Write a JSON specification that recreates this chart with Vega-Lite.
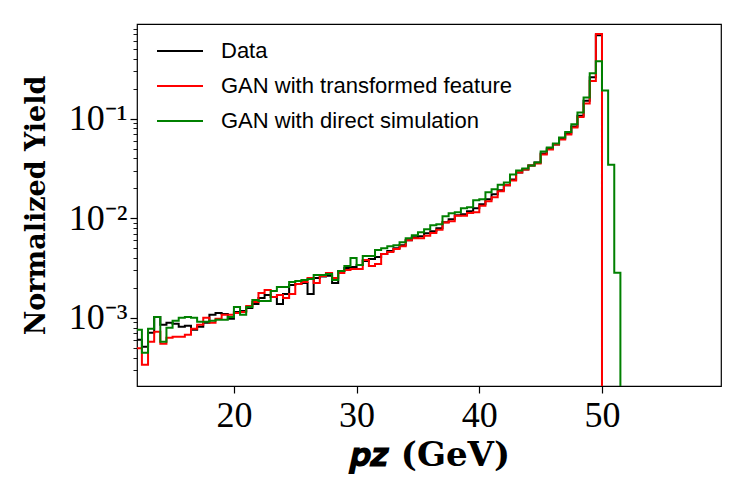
{
  "$schema": "https://vega.github.io/schema/vega-lite/v6.json",
  "background": "white",
  "autosize": {"type": "none"},
  "padding": {"left": 137, "top": 24, "right": 26, "bottom": 112},
  "width": 584,
  "height": 362,
  "config": {
    "view": {"stroke": "black", "strokeWidth": 1.2},
    "axis": {"grid": false, "domain": false}
  },
  "data": {
    "values": [
      {"s": "Data", "pz": 12.0, "y": 6.03e-4},
      {"s": "Data", "pz": 12.5, "y": 5.13e-4},
      {"s": "Data", "pz": 13.0, "y": 7.08e-4},
      {"s": "Data", "pz": 13.5, "y": 1.023e-3},
      {"s": "Data", "pz": 14.0, "y": 8.51e-4},
      {"s": "Data", "pz": 14.5, "y": 8.91e-4},
      {"s": "Data", "pz": 15.0, "y": 8.71e-4},
      {"s": "Data", "pz": 15.5, "y": 8.13e-4},
      {"s": "Data", "pz": 16.0, "y": 8.32e-4},
      {"s": "Data", "pz": 16.5, "y": 7.59e-4},
      {"s": "Data", "pz": 17.0, "y": 8.13e-4},
      {"s": "Data", "pz": 17.5, "y": 8.91e-4},
      {"s": "Data", "pz": 18.0, "y": 1.072e-3},
      {"s": "Data", "pz": 18.5, "y": 1.122e-3},
      {"s": "Data", "pz": 19.0, "y": 1.096e-3},
      {"s": "Data", "pz": 19.5, "y": 9.77e-4},
      {"s": "Data", "pz": 20.0, "y": 1.148e-3},
      {"s": "Data", "pz": 20.5, "y": 1.175e-3},
      {"s": "Data", "pz": 21.0, "y": 1.259e-3},
      {"s": "Data", "pz": 21.5, "y": 1.38e-3},
      {"s": "Data", "pz": 22.0, "y": 1.585e-3},
      {"s": "Data", "pz": 22.5, "y": 1.698e-3},
      {"s": "Data", "pz": 23.0, "y": 1.622e-3},
      {"s": "Data", "pz": 23.5, "y": 1.38e-3},
      {"s": "Data", "pz": 24.0, "y": 1.738e-3},
      {"s": "Data", "pz": 24.5, "y": 2.138e-3},
      {"s": "Data", "pz": 25.0, "y": 2.188e-3},
      {"s": "Data", "pz": 25.5, "y": 2.239e-3},
      {"s": "Data", "pz": 26.0, "y": 1.738e-3},
      {"s": "Data", "pz": 26.5, "y": 2.512e-3},
      {"s": "Data", "pz": 27.0, "y": 2.6e-3},
      {"s": "Data", "pz": 27.5, "y": 2.65e-3},
      {"s": "Data", "pz": 28.0, "y": 2.239e-3},
      {"s": "Data", "pz": 28.5, "y": 2.951e-3},
      {"s": "Data", "pz": 29.0, "y": 3.162e-3},
      {"s": "Data", "pz": 29.5, "y": 3.236e-3},
      {"s": "Data", "pz": 30.0, "y": 3.388e-3},
      {"s": "Data", "pz": 30.5, "y": 3.715e-3},
      {"s": "Data", "pz": 31.0, "y": 3.89e-3},
      {"s": "Data", "pz": 31.5, "y": 4.074e-3},
      {"s": "Data", "pz": 32.0, "y": 4.365e-3},
      {"s": "Data", "pz": 32.5, "y": 4.677e-3},
      {"s": "Data", "pz": 33.0, "y": 5.012e-3},
      {"s": "Data", "pz": 33.5, "y": 5.37e-3},
      {"s": "Data", "pz": 34.0, "y": 6.026e-3},
      {"s": "Data", "pz": 34.5, "y": 6.457e-3},
      {"s": "Data", "pz": 35.0, "y": 6.607e-3},
      {"s": "Data", "pz": 35.5, "y": 7.079e-3},
      {"s": "Data", "pz": 36.0, "y": 7.413e-3},
      {"s": "Data", "pz": 36.5, "y": 7.943e-3},
      {"s": "Data", "pz": 37.0, "y": 9.12e-3},
      {"s": "Data", "pz": 37.5, "y": 9.77e-3},
      {"s": "Data", "pz": 38.0, "y": 1.072e-2},
      {"s": "Data", "pz": 38.5, "y": 1.096e-2},
      {"s": "Data", "pz": 39.0, "y": 1.175e-2},
      {"s": "Data", "pz": 39.5, "y": 1.259e-2},
      {"s": "Data", "pz": 40.0, "y": 1.38e-2},
      {"s": "Data", "pz": 40.5, "y": 1.549e-2},
      {"s": "Data", "pz": 41.0, "y": 1.738e-2},
      {"s": "Data", "pz": 41.5, "y": 1.905e-2},
      {"s": "Data", "pz": 42.0, "y": 2.138e-2},
      {"s": "Data", "pz": 42.5, "y": 2.455e-2},
      {"s": "Data", "pz": 43.0, "y": 2.884e-2},
      {"s": "Data", "pz": 43.5, "y": 3.09e-2},
      {"s": "Data", "pz": 44.0, "y": 3.388e-2},
      {"s": "Data", "pz": 44.5, "y": 3.631e-2},
      {"s": "Data", "pz": 45.0, "y": 4.467e-2},
      {"s": "Data", "pz": 45.5, "y": 5.012e-2},
      {"s": "Data", "pz": 46.0, "y": 5.495e-2},
      {"s": "Data", "pz": 46.5, "y": 6.31e-2},
      {"s": "Data", "pz": 47.0, "y": 7.079e-2},
      {"s": "Data", "pz": 47.5, "y": 8.318e-2},
      {"s": "Data", "pz": 48.0, "y": 0.107},
      {"s": "Data", "pz": 48.5, "y": 0.151},
      {"s": "Data", "pz": 49.0, "y": 0.26},
      {"s": "Data", "pz": 49.5, "y": 0.687},
      {"s": "Data", "pz": 50.0, "y": 1e-6},
      {"s": "GAN with transformed feature", "pz": 12.0, "y": 4.95e-4},
      {"s": "GAN with transformed feature", "pz": 12.5, "y": 3.39e-4},
      {"s": "GAN with transformed feature", "pz": 13.0, "y": 5.75e-4},
      {"s": "GAN with transformed feature", "pz": 13.5, "y": 7.24e-4},
      {"s": "GAN with transformed feature", "pz": 14.0, "y": 5.5e-4},
      {"s": "GAN with transformed feature", "pz": 14.5, "y": 6.31e-4},
      {"s": "GAN with transformed feature", "pz": 15.0, "y": 6.46e-4},
      {"s": "GAN with transformed feature", "pz": 15.5, "y": 6.46e-4},
      {"s": "GAN with transformed feature", "pz": 16.0, "y": 6.76e-4},
      {"s": "GAN with transformed feature", "pz": 16.5, "y": 7.76e-4},
      {"s": "GAN with transformed feature", "pz": 17.0, "y": 8.51e-4},
      {"s": "GAN with transformed feature", "pz": 17.5, "y": 1.0e-3},
      {"s": "GAN with transformed feature", "pz": 18.0, "y": 8.91e-4},
      {"s": "GAN with transformed feature", "pz": 18.5, "y": 9.77e-4},
      {"s": "GAN with transformed feature", "pz": 19.0, "y": 1.072e-3},
      {"s": "GAN with transformed feature", "pz": 19.5, "y": 1.072e-3},
      {"s": "GAN with transformed feature", "pz": 20.0, "y": 1.122e-3},
      {"s": "GAN with transformed feature", "pz": 20.5, "y": 1.148e-3},
      {"s": "GAN with transformed feature", "pz": 21.0, "y": 1.318e-3},
      {"s": "GAN with transformed feature", "pz": 21.5, "y": 1.445e-3},
      {"s": "GAN with transformed feature", "pz": 22.0, "y": 1.778e-3},
      {"s": "GAN with transformed feature", "pz": 22.5, "y": 1.905e-3},
      {"s": "GAN with transformed feature", "pz": 23.0, "y": 1.622e-3},
      {"s": "GAN with transformed feature", "pz": 23.5, "y": 1.698e-3},
      {"s": "GAN with transformed feature", "pz": 24.0, "y": 1.585e-3},
      {"s": "GAN with transformed feature", "pz": 24.5, "y": 1.738e-3},
      {"s": "GAN with transformed feature", "pz": 25.0, "y": 2.188e-3},
      {"s": "GAN with transformed feature", "pz": 25.5, "y": 2.291e-3},
      {"s": "GAN with transformed feature", "pz": 26.0, "y": 2.512e-3},
      {"s": "GAN with transformed feature", "pz": 26.5, "y": 2.239e-3},
      {"s": "GAN with transformed feature", "pz": 27.0, "y": 2.63e-3},
      {"s": "GAN with transformed feature", "pz": 27.5, "y": 2.818e-3},
      {"s": "GAN with transformed feature", "pz": 28.0, "y": 2.512e-3},
      {"s": "GAN with transformed feature", "pz": 28.5, "y": 2.818e-3},
      {"s": "GAN with transformed feature", "pz": 29.0, "y": 3.02e-3},
      {"s": "GAN with transformed feature", "pz": 29.5, "y": 3.09e-3},
      {"s": "GAN with transformed feature", "pz": 30.0, "y": 3.09e-3},
      {"s": "GAN with transformed feature", "pz": 30.5, "y": 3.802e-3},
      {"s": "GAN with transformed feature", "pz": 31.0, "y": 3.311e-3},
      {"s": "GAN with transformed feature", "pz": 31.5, "y": 3.467e-3},
      {"s": "GAN with transformed feature", "pz": 32.0, "y": 4.365e-3},
      {"s": "GAN with transformed feature", "pz": 32.5, "y": 4.571e-3},
      {"s": "GAN with transformed feature", "pz": 33.0, "y": 4.898e-3},
      {"s": "GAN with transformed feature", "pz": 33.5, "y": 5.248e-3},
      {"s": "GAN with transformed feature", "pz": 34.0, "y": 6.026e-3},
      {"s": "GAN with transformed feature", "pz": 34.5, "y": 6.31e-3},
      {"s": "GAN with transformed feature", "pz": 35.0, "y": 6.31e-3},
      {"s": "GAN with transformed feature", "pz": 35.5, "y": 6.67e-3},
      {"s": "GAN with transformed feature", "pz": 36.0, "y": 7.1e-3},
      {"s": "GAN with transformed feature", "pz": 36.5, "y": 7.66e-3},
      {"s": "GAN with transformed feature", "pz": 37.0, "y": 9.08e-3},
      {"s": "GAN with transformed feature", "pz": 37.5, "y": 9.33e-3},
      {"s": "GAN with transformed feature", "pz": 38.0, "y": 1.059e-2},
      {"s": "GAN with transformed feature", "pz": 38.5, "y": 1.059e-2},
      {"s": "GAN with transformed feature", "pz": 39.0, "y": 1.127e-2},
      {"s": "GAN with transformed feature", "pz": 39.5, "y": 1.148e-2},
      {"s": "GAN with transformed feature", "pz": 40.0, "y": 1.337e-2},
      {"s": "GAN with transformed feature", "pz": 40.5, "y": 1.479e-2},
      {"s": "GAN with transformed feature", "pz": 41.0, "y": 1.622e-2},
      {"s": "GAN with transformed feature", "pz": 41.5, "y": 1.862e-2},
      {"s": "GAN with transformed feature", "pz": 42.0, "y": 2.138e-2},
      {"s": "GAN with transformed feature", "pz": 42.5, "y": 2.399e-2},
      {"s": "GAN with transformed feature", "pz": 43.0, "y": 2.884e-2},
      {"s": "GAN with transformed feature", "pz": 43.5, "y": 3.09e-2},
      {"s": "GAN with transformed feature", "pz": 44.0, "y": 3.388e-2},
      {"s": "GAN with transformed feature", "pz": 44.5, "y": 3.548e-2},
      {"s": "GAN with transformed feature", "pz": 45.0, "y": 4.365e-2},
      {"s": "GAN with transformed feature", "pz": 45.5, "y": 4.898e-2},
      {"s": "GAN with transformed feature", "pz": 46.0, "y": 5.495e-2},
      {"s": "GAN with transformed feature", "pz": 46.5, "y": 6.166e-2},
      {"s": "GAN with transformed feature", "pz": 47.0, "y": 6.918e-2},
      {"s": "GAN with transformed feature", "pz": 47.5, "y": 8.128e-2},
      {"s": "GAN with transformed feature", "pz": 48.0, "y": 0.104},
      {"s": "GAN with transformed feature", "pz": 48.5, "y": 0.142},
      {"s": "GAN with transformed feature", "pz": 49.0, "y": 0.239},
      {"s": "GAN with transformed feature", "pz": 49.5, "y": 0.708},
      {"s": "GAN with transformed feature", "pz": 50.0, "y": 1e-6},
      {"s": "GAN with direct simulation", "pz": 12.0, "y": 7.59e-4},
      {"s": "GAN with direct simulation", "pz": 12.5, "y": 4.47e-4},
      {"s": "GAN with direct simulation", "pz": 13.0, "y": 7.76e-4},
      {"s": "GAN with direct simulation", "pz": 13.5, "y": 1.023e-3},
      {"s": "GAN with direct simulation", "pz": 14.0, "y": 5.75e-4},
      {"s": "GAN with direct simulation", "pz": 14.5, "y": 7.94e-4},
      {"s": "GAN with direct simulation", "pz": 15.0, "y": 9.33e-4},
      {"s": "GAN with direct simulation", "pz": 15.5, "y": 1.0e-3},
      {"s": "GAN with direct simulation", "pz": 16.0, "y": 1.023e-3},
      {"s": "GAN with direct simulation", "pz": 16.5, "y": 1.0e-3},
      {"s": "GAN with direct simulation", "pz": 17.0, "y": 9.12e-4},
      {"s": "GAN with direct simulation", "pz": 17.5, "y": 9.12e-4},
      {"s": "GAN with direct simulation", "pz": 18.0, "y": 9.33e-4},
      {"s": "GAN with direct simulation", "pz": 18.5, "y": 9.55e-4},
      {"s": "GAN with direct simulation", "pz": 19.0, "y": 9.55e-4},
      {"s": "GAN with direct simulation", "pz": 19.5, "y": 1.023e-3},
      {"s": "GAN with direct simulation", "pz": 20.0, "y": 1.288e-3},
      {"s": "GAN with direct simulation", "pz": 20.5, "y": 1.072e-3},
      {"s": "GAN with direct simulation", "pz": 21.0, "y": 1.288e-3},
      {"s": "GAN with direct simulation", "pz": 21.5, "y": 1.514e-3},
      {"s": "GAN with direct simulation", "pz": 22.0, "y": 1.479e-3},
      {"s": "GAN with direct simulation", "pz": 22.5, "y": 1.479e-3},
      {"s": "GAN with direct simulation", "pz": 23.0, "y": 1.862e-3},
      {"s": "GAN with direct simulation", "pz": 23.5, "y": 2.042e-3},
      {"s": "GAN with direct simulation", "pz": 24.0, "y": 2.042e-3},
      {"s": "GAN with direct simulation", "pz": 24.5, "y": 2.291e-3},
      {"s": "GAN with direct simulation", "pz": 25.0, "y": 2.344e-3},
      {"s": "GAN with direct simulation", "pz": 25.5, "y": 2.399e-3},
      {"s": "GAN with direct simulation", "pz": 26.0, "y": 2.455e-3},
      {"s": "GAN with direct simulation", "pz": 26.5, "y": 2.692e-3},
      {"s": "GAN with direct simulation", "pz": 27.0, "y": 2.692e-3},
      {"s": "GAN with direct simulation", "pz": 27.5, "y": 2.754e-3},
      {"s": "GAN with direct simulation", "pz": 28.0, "y": 2.399e-3},
      {"s": "GAN with direct simulation", "pz": 28.5, "y": 2.951e-3},
      {"s": "GAN with direct simulation", "pz": 29.0, "y": 3.311e-3},
      {"s": "GAN with direct simulation", "pz": 29.5, "y": 3.981e-3},
      {"s": "GAN with direct simulation", "pz": 30.0, "y": 3.388e-3},
      {"s": "GAN with direct simulation", "pz": 30.5, "y": 4.169e-3},
      {"s": "GAN with direct simulation", "pz": 31.0, "y": 4.169e-3},
      {"s": "GAN with direct simulation", "pz": 31.5, "y": 4.786e-3},
      {"s": "GAN with direct simulation", "pz": 32.0, "y": 5.012e-3},
      {"s": "GAN with direct simulation", "pz": 32.5, "y": 5.248e-3},
      {"s": "GAN with direct simulation", "pz": 33.0, "y": 5.37e-3},
      {"s": "GAN with direct simulation", "pz": 33.5, "y": 5.754e-3},
      {"s": "GAN with direct simulation", "pz": 34.0, "y": 6.31e-3},
      {"s": "GAN with direct simulation", "pz": 34.5, "y": 6.761e-3},
      {"s": "GAN with direct simulation", "pz": 35.0, "y": 7.244e-3},
      {"s": "GAN with direct simulation", "pz": 35.5, "y": 7.762e-3},
      {"s": "GAN with direct simulation", "pz": 36.0, "y": 8.511e-3},
      {"s": "GAN with direct simulation", "pz": 36.5, "y": 8.71e-3},
      {"s": "GAN with direct simulation", "pz": 37.0, "y": 1.047e-2},
      {"s": "GAN with direct simulation", "pz": 37.5, "y": 1.122e-2},
      {"s": "GAN with direct simulation", "pz": 38.0, "y": 1.148e-2},
      {"s": "GAN with direct simulation", "pz": 38.5, "y": 1.259e-2},
      {"s": "GAN with direct simulation", "pz": 39.0, "y": 1.288e-2},
      {"s": "GAN with direct simulation", "pz": 39.5, "y": 1.514e-2},
      {"s": "GAN with direct simulation", "pz": 40.0, "y": 1.549e-2},
      {"s": "GAN with direct simulation", "pz": 40.5, "y": 1.82e-2},
      {"s": "GAN with direct simulation", "pz": 41.0, "y": 1.95e-2},
      {"s": "GAN with direct simulation", "pz": 41.5, "y": 2.163e-2},
      {"s": "GAN with direct simulation", "pz": 42.0, "y": 2.291e-2},
      {"s": "GAN with direct simulation", "pz": 42.5, "y": 2.754e-2},
      {"s": "GAN with direct simulation", "pz": 43.0, "y": 3.02e-2},
      {"s": "GAN with direct simulation", "pz": 43.5, "y": 3.162e-2},
      {"s": "GAN with direct simulation", "pz": 44.0, "y": 3.388e-2},
      {"s": "GAN with direct simulation", "pz": 44.5, "y": 3.631e-2},
      {"s": "GAN with direct simulation", "pz": 45.0, "y": 4.677e-2},
      {"s": "GAN with direct simulation", "pz": 45.5, "y": 5.129e-2},
      {"s": "GAN with direct simulation", "pz": 46.0, "y": 5.623e-2},
      {"s": "GAN with direct simulation", "pz": 46.5, "y": 6.457e-2},
      {"s": "GAN with direct simulation", "pz": 47.0, "y": 7.345e-2},
      {"s": "GAN with direct simulation", "pz": 47.5, "y": 8.77e-2},
      {"s": "GAN with direct simulation", "pz": 48.0, "y": 0.115},
      {"s": "GAN with direct simulation", "pz": 48.5, "y": 0.163},
      {"s": "GAN with direct simulation", "pz": 49.0, "y": 0.286},
      {"s": "GAN with direct simulation", "pz": 49.5, "y": 0.377},
      {"s": "GAN with direct simulation", "pz": 50.0, "y": 0.192},
      {"s": "GAN with direct simulation", "pz": 50.5, "y": 0.0345},
      {"s": "GAN with direct simulation", "pz": 51.0, "y": 0.00283},
      {"s": "GAN with direct simulation", "pz": 51.5, "y": 1e-6}
    ]
  },
  "mark": {"type": "line", "interpolate": "step-after", "strokeWidth": 2, "clip": true},
  "encoding": {
    "x": {
      "field": "pz",
      "type": "quantitative",
      "scale": {"domain": [12.1, 59.7], "nice": false, "zero": false},
      "axis": {
        "values": [20, 30, 40, 50],
        "title": "𝒑𝒛 (GeV)",
        "titleFont": "DejaVu Serif",
        "titleFontWeight": "bold",
        "titleFontSize": 34,
        "titleColor": "black",
        "titlePadding": 5,
        "labelFont": "Liberation Serif",
        "labelFontSize": 36,
        "labelColor": "black",
        "labelPadding": 5,
        "tickColor": "black",
        "tickSize": 7,
        "tickWidth": 1.2
      }
    },
    "y": {
      "field": "y",
      "type": "quantitative",
      "scale": {"type": "log", "domain": [0.000207, 0.891], "nice": false},
      "axis": {
        "values": [0.0003, 0.0004, 0.0005, 0.0006, 0.0007, 0.0008, 0.0009, 0.001, 0.002, 0.003, 0.004, 0.005, 0.006, 0.007, 0.008, 0.009, 0.01, 0.02, 0.03, 0.04, 0.05, 0.06, 0.07, 0.08, 0.09, 0.1, 0.2, 0.3, 0.4, 0.5, 0.6, 0.7, 0.8],
        "labelExpr": "datum.value == 0.001 ? '10⁻³' : datum.value == 0.01 ? '10⁻²' : datum.value == 0.1 ? '10⁻¹' : ''",
        "title": "Normalized Yield",
        "titleFont": "DejaVu Serif",
        "titleFontWeight": "bold",
        "titleFontSize": 27,
        "titleColor": "black",
        "titlePadding": 18,
        "labelFont": "Liberation Serif",
        "labelFontSize": 36,
        "labelColor": "black",
        "labelPadding": 3,
        "tickColor": "black",
        "tickSize": {"condition": {"test": "datum.value == 0.001 || datum.value == 0.01 || datum.value == 0.1", "value": 7}, "value": 4},
        "tickWidth": {"condition": {"test": "datum.value == 0.001 || datum.value == 0.01 || datum.value == 0.1", "value": 1.2}, "value": 0.9}
      }
    },
    "color": {
      "field": "s",
      "type": "nominal",
      "scale": {
        "domain": ["Data", "GAN with transformed feature", "GAN with direct simulation"],
        "range": ["#000000", "#ff0000", "#008000"]
      },
      "legend": {
        "title": null,
        "orient": "none",
        "legendX": 19,
        "legendY": 3,
        "padding": 0,
        "symbolType": "stroke",
        "symbolSize": 2116,
        "symbolStrokeWidth": 2,
        "labelFont": "Liberation Sans",
        "labelFontSize": 22,
        "labelColor": "black",
        "labelOffset": 17,
        "labelLimit": 500,
        "rowPadding": -2
      }
    }
  }
}
